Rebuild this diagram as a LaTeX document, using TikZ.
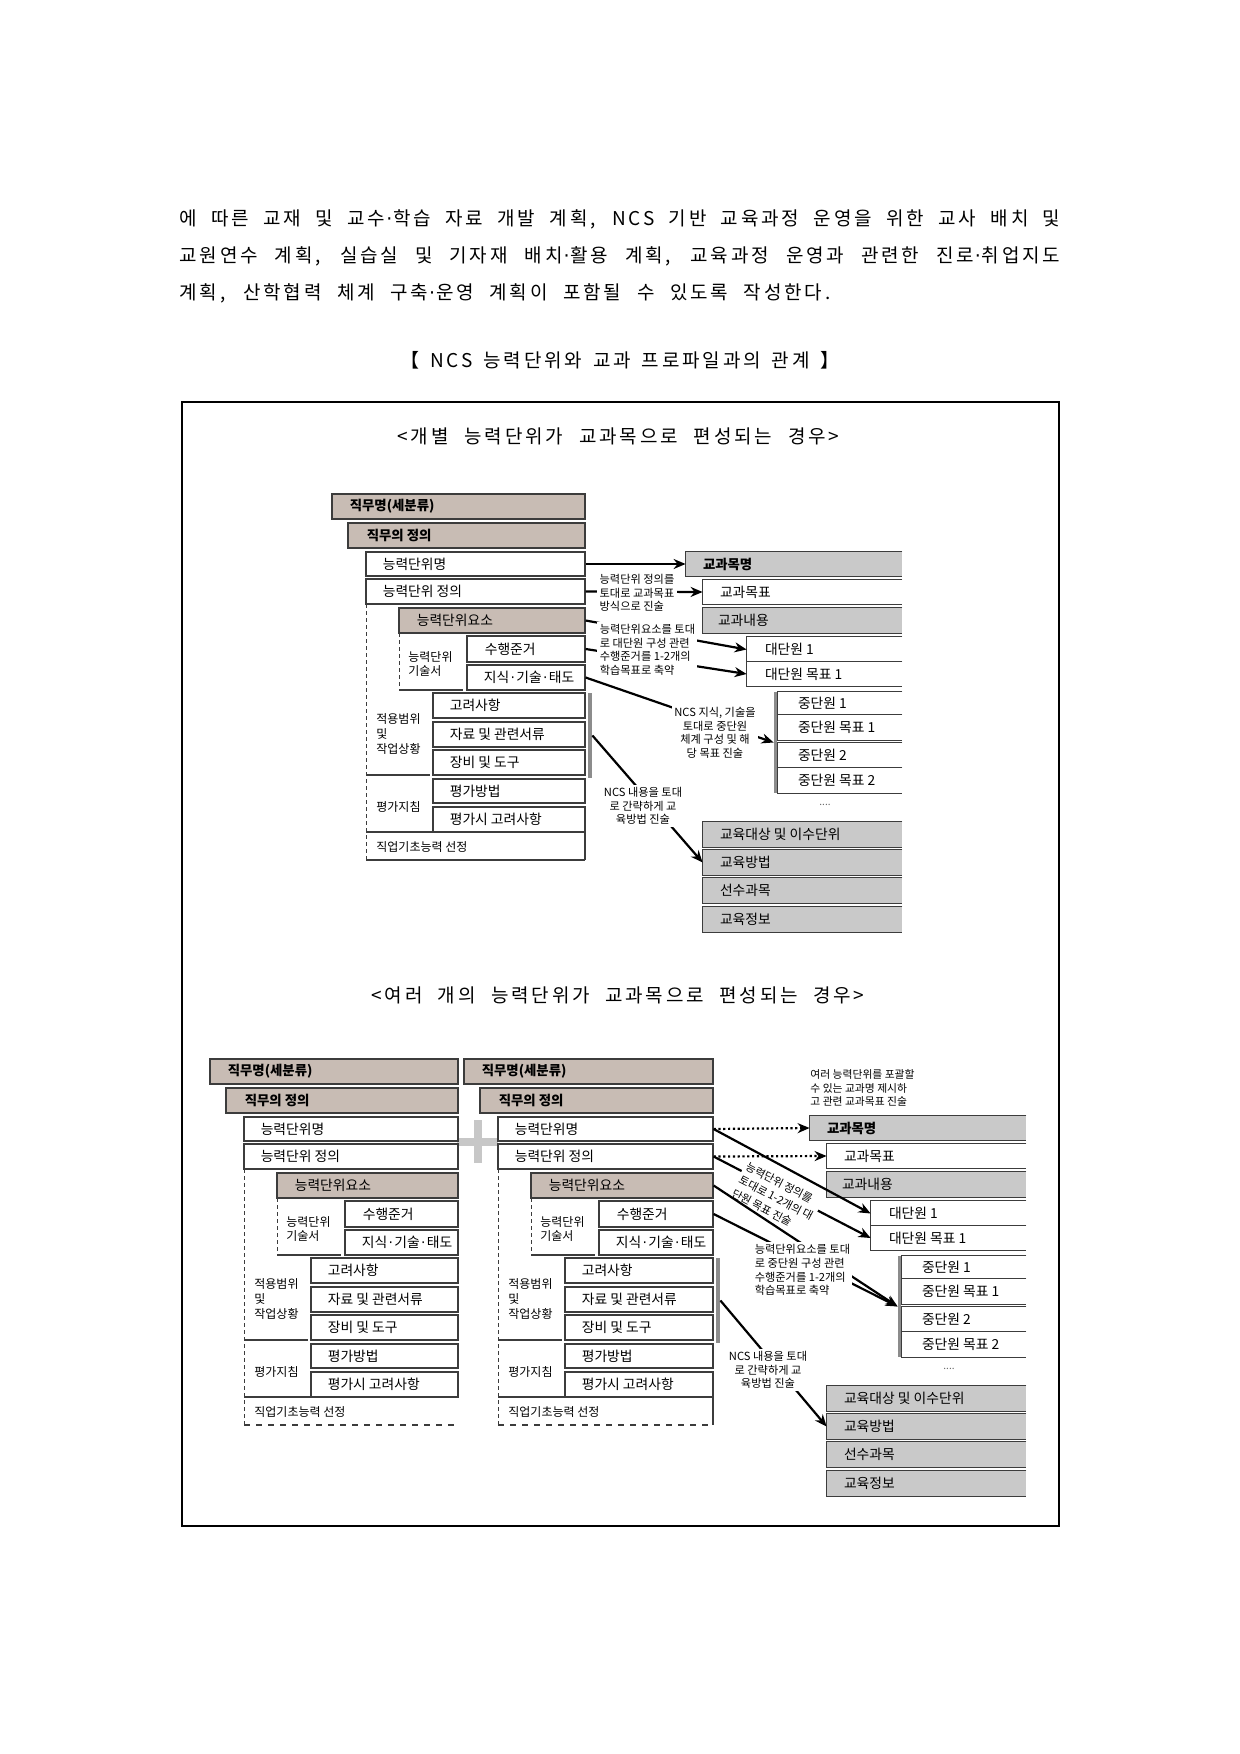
\documentclass[tikz,border=0pt]{standalone}
\usepackage{fontspec}
\setmainfont{Noto Sans CJK KR}
\newfontfamily\parafont{Noto Sans CJK KR}[LetterSpace=15]
\newfontfamily\dotfont{DejaVu Sans}
\usetikzlibrary{arrows.meta,fit}
\newcommand\mdt{{\dotfont\kern0.05em·\kern0.05em}}
\newcommand\kdt{{\dotfont\kern0.1em·\kern0.1em}}
\definecolor{brn}{HTML}{C8BCB4}
\definecolor{gry}{HTML}{C9C9C9}
\definecolor{edg}{HTML}{3C3C3C}
\definecolor{barc}{HTML}{8C8C8C}
\tikzset{
  bline/.style={draw=edg, line width=0.6pt},
  wbox/.style={bline, fill=white, inner sep=0pt},
  brbox/.style={bline, fill=brn, inner sep=0pt},
  gybox/.style={bline, fill=gry, inner sep=0pt},
  owbox/.style={fill=white, inner sep=0pt},
  ogbox/.style={fill=gry, inner sep=0pt},
  tt/.style={anchor=west, inner sep=0pt, font=\fontsize{6.9}{8}\selectfont},
  bt/.style={anchor=west, inner sep=0pt, font=\fontsize{6.7}{8}\selectfont\bfseries},
  lbl/.style={anchor=west, inner sep=0pt, align=left, font=\fontsize{6}{7.4}\selectfont},
  note/.style={inner sep=1.2pt, fill=white, font=\fontsize{5.6}{6.8}\selectfont},
  rnote/.style={inner sep=1pt, font=\fontsize{5.5}{7.6}\selectfont},
  arr/.style={line width=1.1pt, -{Stealth[length=6pt,width=5pt]}},
  darr/.style={arr, dash pattern=on 1.1pt off 1.3pt},
  gbar/.style={fill=barc, inner sep=0pt},
  plus/.style={line width=4pt, draw=black!22},
  dl/.style={draw=edg, line width=0.5pt, dash pattern=on 2pt off 1.5pt},
  sl/.style={draw=edg, line width=0.6pt},
  para/.style={anchor=west, inner sep=0pt, font=\parafont\fontsize{9.5}{11}\selectfont},
}
\newcommand\cbx[9]{%
  \node[#2, fit={(#3,#4)(#5,#6)}] (#1) {};
  \node[#9] (#1-t) at ([xshift=#8*0.5pt]#1.west) {#7};}
\newcommand\obx[9]{%
  \node[#2, fit={(#3,#4)(#5,#6)}] (#1) {};
  \draw[bline] (#1.north east) -- (#1.north west) -- (#1.south west) -- (#1.south east);
  \node[#9] (#1-t) at ([xshift=#8*0.5pt]#1.west) {#7};}
\newcommand\ncsblock[6]{%
\begin{scope}[shift={(#2,#3)}, name prefix=#1-]
  \cbx{jm}{brbox}{0}{0}{#4}{25}{직무명(세분류)}{18}{bt}
  \cbx{jd}{brbox}{16}{29}{#4}{54}{직무의 정의}{19}{bt}
  \cbx{nm}{wbox}{34}{58}{#4}{82}{능력단위명}{17}{tt}
  \cbx{nd}{wbox}{34}{85}{#4}{110}{능력단위 정의}{17}{tt}
  \cbx{ne}{brbox}{67}{114}{#4}{139}{능력단위요소}{18}{tt}
  \cbx{sj}{wbox}{135}{142}{#4}{168}{수행준거}{18}{tt}
  \cbx{kn}{wbox}{135}{171}{#4}{196}{지식\kdt{}기술\kdt{}태도}{17}{tt}
  \cbx{gr}{wbox}{101}{199}{#4}{224}{고려사항}{17}{tt}
  \cbx{jr}{wbox}{101}{228}{#4}{253}{자료 및 관련서류}{17}{tt}
  \cbx{jb}{wbox}{101}{256}{#4}{281}{장비 및 도구}{17}{tt}
  \cbx{pm}{wbox}{101}{285}{#4}{309}{평가방법}{17}{tt}
  \cbx{pg}{wbox}{101}{313}{#4}{338}{평가시 고려사항}{17}{tt}
  \draw[dl] (34,110) -- (34,366);
  \draw[dl] (67,139) -- (67,196);
  \draw[sl] (67,196) -- (131,196);
  \draw[sl] (34,281) -- (98,281);
  \draw[sl] (34,338) -- (101,338);
  \draw[sl,#5] (34,366) -- (#4,366);
  \node[lbl] (lb1) at (76,170) {능력단위\\기술서};
  \node[lbl] (lb2) at (44,240) {적용범위\\및\\작업상황};
  \node[lbl] (lb3) at (44,313) {평가지침};
  \node[lbl] (lb4) at (44,353) {직업기초능력 선정};
  #6
\end{scope}}
\newcommand\rcol[3]{%
\begin{scope}[shift={(#2,#3)}, name prefix=#1-]
  \obx{km}{ogbox}{0}{0}{216}{24}{교과목명}{17}{bt}
  \obx{kt}{owbox}{17}{28}{216}{52}{교과목표}{17}{tt}
  \obx{kc}{ogbox}{17}{56}{216}{81}{교과내용}{15}{tt}
  \obx{d1}{owbox}{61}{85}{216}{110}{대단원 1}{18}{tt}
  \obx{d2}{owbox}{61}{110}{216}{134}{대단원 목표 1}{18}{tt}
  \obx{m1}{owbox}{92}{140}{216}{163}{중단원 1}{20}{tt}
  \obx{m2}{owbox}{92}{163}{216}{188}{중단원 목표 1}{20}{tt}
  \obx{m3}{owbox}{92}{191}{216}{216}{중단원 2}{20}{tt}
  \obx{m4}{owbox}{92}{216}{216}{241}{중단원 목표 2}{20}{tt}
  \node[gbar, fit={(88,140)(91,241)}] (bar) {};
  \node[inner sep=0pt, text=black!60, font=\fontsize{5}{6}\selectfont] (dt) at (139,253) {....};
  \obx{e1}{ogbox}{17}{270}{216}{295}{교육대상 및 이수단위}{17}{tt}
  \obx{e2}{ogbox}{17}{298}{216}{323}{교육방법}{17}{tt}
  \obx{e3}{ogbox}{17}{326}{216}{351}{선수과목}{17}{tt}
  \obx{e4}{ogbox}{17}{355}{216}{380}{교육정보}{17}{tt}
\end{scope}}
\begin{document}
\begin{tikzpicture}[x=0.5pt, y=-0.5pt]
\path[use as bounding box] (0,0) rectangle (1240,1754);
% paragraph
\node[para] (p1) at (179,219) {\makebox[440.5pt][s]{에 따른 교재 및 교수\mdt{}학습 자료 개발 계획, NCS 기반 교육과정 운영을 위한 교사 배치 및}};
\node[para] (p2) at (179,256) {\makebox[440.5pt][s]{교원연수 계획, 실습실 및 기자재 배치\mdt{}활용 계획, 교육과정 운영과 관련한 진로\mdt{}취업지도}};
\node[para] (p3) at (179,293) {\makebox[325.5pt][s]{계획, 산학협력 체계 구축\mdt{}운영 계획이 포함될 수 있도록 작성한다.}};
\node[para] (ttl) at (400,360) {\makebox[219.5pt][s]{【 NCS 능력단위와 교과 프로파일과의 관계 】}};
% frame
\node[draw=black, line width=0.6pt, inner sep=0pt, fit={(182,402)(1059,1526)}] (frame) {};
\node[para] (s1) at (397,436) {\makebox[221pt][s]{<개별 능력단위가 교과목으로 편성되는 경우>}};
\node[para] (s2) at (371,995) {\makebox[246.5pt][s]{<여러 개의 능력단위가 교과목으로 편성되는 경우>}};

% ---------- top diagram ----------
\ncsblock{T}{332}{494}{253}{solid}{%
  \draw[sl] (253,338) -- (253,366);
  \node[gbar, fit={(256,199)(260,284)}] (bar) {};}
\rcol{TK}{686}{552}

\draw[arr] (T-nm.east) -- (TK-km.west);
\draw[arr] (T-nd.east) -- (TK-kt.west);
\node[note, align=left] (n1) at (637,593) {능력단위 정의를\\토대로 교과목표\\방식으로 진술};
\draw[arr] (T-ne.east) -- (TK-d1.west);
\draw[arr] (T-sj.east) -- (TK-d2.west);
\node[note, align=left, anchor=west] (n2) at (597,650) {능력단위요소를 토대\\로 대단원 구성 관련\\수행준거를 1-2개의\\학습목표로 축약};
\draw[arr] (T-kn.east) -- (TK-bar.west);
\node[note, align=center] (n3) at (715,733) {NCS 지식, 기술을\\토대로 중단원\\체계 구성 및 해\\당 목표 진술};
\draw[arr] (T-bar.east) -- (TK-e2.west);
\node[note, align=center] (n4) at (643,806) {NCS 내용을 토대\\로 간략하게 교\\육방법 진술};

% ---------- bottom diagram ----------
\draw[plus] (478,1120) -- (478,1163);
\draw[plus] (457,1142) -- (498,1142);
\ncsblock{L}{210}{1059}{248}{dashed}{}
\ncsblock{R}{464}{1059}{249}{dashed}{%
  \draw[sl] (249,338) -- (249,366);
  \node[gbar, fit={(252,199)(256,284)}] (bar) {};}
\rcol{BK}{810}{1116}

\node[rnote, align=left, anchor=west, font=\fontsize{5.4}{6.6}\selectfont] (n8) at (808,1088) {여러 능력단위를 포괄할\\수 있는 교과명 제시하\\고 관련 교과목표 진술};
\draw[darr] (R-nm.east) -- (BK-km.west);
\draw[darr] (R-nd.east) -- (BK-kt.west);
\draw[arr] (R-nd.east) -- (BK-d2.west);
\node[rnote, fill=white, align=left, rotate=-27.5] (n5) at (776,1198) {능력단위 정의를\\토대로 1-2개의 대\\단원 목표 진술};
\draw[arr] (R-nm.east) -- (BK-d1.west);
\draw[arr] (R-ne.east) -- (BK-bar.west);
\draw[arr] (R-sj.east) -- (BK-bar.west);
\node[note, align=left, anchor=west] (n6) at (752,1270) {능력단위요소를 토대\\로 중단원 구성 관련\\수행준거를 1-2개의\\학습목표로 축약};
\draw[arr] (R-bar.east) -- (BK-e2.west);
\node[note, align=center] (n7) at (768,1370) {NCS 내용을 토대\\로 간략하게 교\\육방법 진술};
\end{tikzpicture}
\end{document}
